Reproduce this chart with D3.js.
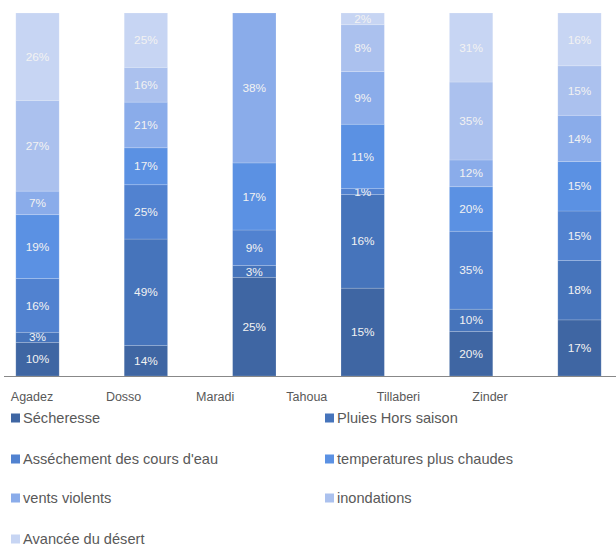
<!DOCTYPE html>
<html>
<head>
<meta charset="utf-8">
<script src="https://cdn.jsdelivr.net/npm/d3@7"></script>
<style>
  html, body { margin: 0; padding: 0; background: #fff; }
  svg { display: block; }
  text { font-family: "Liberation Sans", Arial, sans-serif; }
</style>
</head>
<body>
<svg id="chart" width="616" height="548"></svg>
<script>
const regions = ["Agadez", "Dosso", "Maradi", "Tahoua", "Tillaberi", "Zinder"];
const seriesNames = ["Sécheresse", "Pluies Hors saison", "Asséchement des cours d'eau",
  "temperatures plus chaudes", "vents violents", "inondations", "Avancée du désert"];
const secheresse   = [10, 14, 25, 15, 20, 17];
const pluies       = [3, 49, 3, 16, 10, 18];
const assechement  = [16, 25, 9, 1, 35, 15];
const temperatures = [19, 17, 17, 11, 20, 15];
const vents        = [7, 21, 38, 9, 12, 14];
const inondations  = [27, 16, 0, 8, 35, 15];
const avancee      = [26, 25, 0, 2, 31, 16];
const colors = ["#3f66a3", "#4674bb", "#5182d0", "#5b91e3", "#8aacea", "#abc1ee", "#c7d5f3"];

const seriesValues = [secheresse, pluies, assechement, temperatures, vents, inondations, avancee];
const table = regions.map((r, i) => {
  const row = { region: r };
  seriesNames.forEach((s, j) => row[s] = seriesValues[j][i]);
  return row;
});

const svg = d3.select("#chart");
const plotTop = 13, plotBottom = 376;

const x = d3.scaleBand().domain(regions).range([-16.7, 633.7]).paddingInner(0.6).paddingOuter(0.3);
const y = d3.scaleLinear().domain([0, 1]).range([plotBottom, plotTop]);
const color = d3.scaleOrdinal().domain(seriesNames).range(colors);

const stack = d3.stack().keys(seriesNames).offset(d3.stackOffsetExpand);
const stacked = stack(table);

const g = svg.append("g");
const layers = g.selectAll("g.layer").data(stacked).join("g")
  .attr("class", "layer").attr("fill", d => color(d.key));

layers.selectAll("rect").data(d => d.map(p => ({ p, key: d.key })))
  .join("rect")
  .attr("x", d => x(d.p.data.region))
  .attr("width", x.bandwidth())
  .attr("y", d => y(d.p[1]))
  .attr("height", d => Math.max(0, y(d.p[0]) - y(d.p[1])))
  .attr("stroke", "#ffffff").attr("stroke-opacity", 0.2).attr("stroke-width", 0.8);

layers.selectAll("text").data(d => d.map(p => ({ p, key: d.key })).filter(d => d.p.data[d.key] > 0))
  .join("text")
  .attr("x", d => x(d.p.data.region) + x.bandwidth() / 2)
  .attr("y", d => (y(d.p[0]) + y(d.p[1])) / 2)
  .attr("dy", "0.35em")
  .attr("text-anchor", "middle")
  .attr("fill", "#f2f2f2")
  .style("font-size", "11.8px")
  .text(d => d.p.data[d.key] + "%");

// axis line
const xAxis = d3.axisBottom(x).tickSize(0).tickFormat("");
const ax = svg.append("g").attr("transform", `translate(0,${plotBottom})`).call(xAxis);
ax.select(".domain").attr("stroke", "#888888").attr("stroke-width", 1.2).attr("d", "M4,0.5H616");

// category labels (offset as in the reference)
const xl = d3.scalePoint().domain(regions).range([32, 490]);
svg.append("g").selectAll("text").data(regions).join("text")
  .attr("x", d => xl(d))
  .attr("y", 397)
  .attr("dy", "0.35em")
  .attr("text-anchor", "middle")
  .attr("fill", "#595959")
  .style("font-size", "12.5px")
  .text(d => d);

// legend
const legend = svg.append("g");
const legItems = legend.selectAll("g").data(seriesNames).join("g")
  .attr("transform", (d, i) => {
    const col = i % 2, row = Math.floor(i / 2);
    const rowY = [418, 459, 498, 539][row];
    return `translate(${col === 0 ? 11 : 325},${rowY})`;
  });
legItems.append("rect").attr("x", 0).attr("y", -4.5).attr("width", 9).attr("height", 9)
  .attr("fill", d => color(d));
legItems.append("text").attr("x", 12).attr("y", 0).attr("dy", "0.35em")
  .attr("fill", "#595959").style("font-size", "14.6px").text(d => d);
</script>
</body>
</html>
